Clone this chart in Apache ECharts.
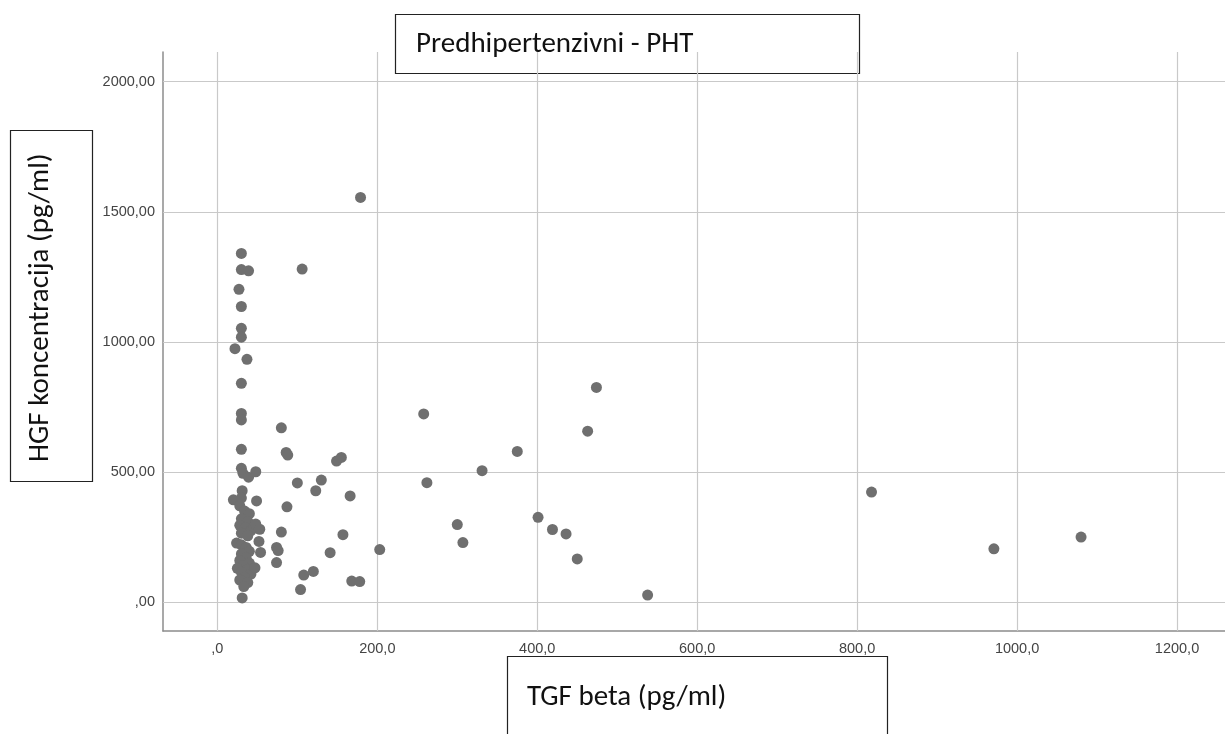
<!DOCTYPE html>
<html>
<head>
<meta charset="utf-8">
<script src="https://cdn.jsdelivr.net/npm/echarts@6/dist/echarts.min.js"></script>
<style>
html,body{margin:0;padding:0;background:#fff;}
#chart{width:1225px;height:734px;}
</style>
</head>
<body>
<div id="chart"></div>
<script>
// ---- data (TGF beta pg/ml, HGF pg/ml) ----
const tgfBeta = [
  30,30,39,27,30,30,30,22,37,30,30,30,30,30,32,39,48,31,20,49,
  30,28,34,40,30,38,28,35,42,30,38,46,48,53,52,54,
  24,30,36,40,30,36,28,40,32,25,38,30,42,34,28,38,33,31,47,
  80,86,88,149,155,100,130,123,166,87,80,157,74,76,141,203,74,120,108,104,168,178,106,179,
  258,474,463,375,331,262,300,307,401,419,436,450,538,818,971,1080
];
const hgfConc = [
  1340,1278,1273,1202,1136,1052,1018,974,933,841,725,700,587,514,495,480,501,428,393,389,
  400,370,350,340,320,310,295,285,275,265,255,290,300,280,233,191,
  227,220,210,195,185,170,160,150,140,130,125,115,108,95,85,75,60,16,132,
  670,575,565,542,556,458,469,428,408,366,269,259,210,198,190,202,152,118,104,48,81,79,1280,1555,
  723,825,657,579,505,459,298,229,326,279,262,166,27,423,205,250
];
const xTicks = [0,200,400,600,800,1000,1200];
const yTicks = [0,500,1000,1500,2000];
const titleText = 'Predhipertenzivni - PHT';
const xLabel = 'TGF beta (pg/ml)';
const yLabel = 'HGF koncentracija (pg/ml)';

const points = tgfBeta.map((x,i)=>[x,hgfConc[i]]);
const fmtX = v => v===0 ? ',0' : v.toFixed(1).replace('.',',');
const fmtY = v => v===0 ? ',00' : v.toFixed(2).replace('.',',');

const boxFont = 'Carlito, Lato, "Open Sans", sans-serif';
const tickFont = '"Liberation Sans", Arial, sans-serif';
const chart = echarts.init(document.getElementById('chart'));
chart.setOption({
  animation:false,
  backgroundColor:'#ffffff',
  grid:{left:163,top:52,right:0,bottom:103,containLabel:false},
  xAxis:{
    type:'value',min:-68,max:1260,
    axisLine:{show:true,onZero:false,lineStyle:{color:'#8c8c8c',width:1.5}},
    axisTick:{show:false},
    splitLine:{show:false},
    axisLabel:{customValues:xTicks,formatter:fmtX,color:'#444',fontSize:14.5,
      fontFamily:tickFont,margin:10}
  },
  yAxis:{
    type:'value',min:-111,max:2114,
    axisLine:{show:true,onZero:false,lineStyle:{color:'#8c8c8c',width:1.5}},
    axisTick:{show:false},
    splitLine:{show:false},
    axisLabel:{customValues:yTicks,formatter:fmtY,color:'#444',fontSize:14.5,
      fontFamily:tickFont,margin:8}
  },
  series:[
    {
      type:'line',data:[],silent:true,z:1,
      markLine:{
        silent:true,symbol:'none',z:1,animation:false,
        label:{show:false},
        lineStyle:{color:'#c9c9c9',width:1.2,type:'solid'},
        emphasis:{disabled:true},
        data:[...xTicks.map(v=>({xAxis:v})),...yTicks.map(v=>({yAxis:v}))]
      }
    },
    {
      type:'scatter',data:points,symbolSize:11,z:3,
      itemStyle:{color:'#6f6f6f',opacity:1}
    }
  ],
  graphic:[
    {type:'rect',shape:{x:395.5,y:14.5,width:464,height:59},style:{fill:'#fff',stroke:'#222',lineWidth:1.2}},
    {type:'text',x:416,y:45,style:{text:titleText,font:'29px '+boxFont,fill:'#111',verticalAlign:'middle'}},
    {type:'rect',shape:{x:10.5,y:130.5,width:82,height:351},style:{fill:'#fff',stroke:'#222',lineWidth:1.2}},
    {type:'text',x:41,y:462,rotation:Math.PI/2,style:{text:yLabel,font:'29px '+boxFont,fill:'#111',verticalAlign:'middle',align:'left'}},
    {type:'rect',shape:{x:507.5,y:656.5,width:380,height:90},style:{fill:'#fff',stroke:'#222',lineWidth:1.2}},
    {type:'text',x:527,y:698,style:{text:xLabel,font:'29px '+boxFont,fill:'#111',verticalAlign:'middle'}}
  ]
});
</script>
</body>
</html>
